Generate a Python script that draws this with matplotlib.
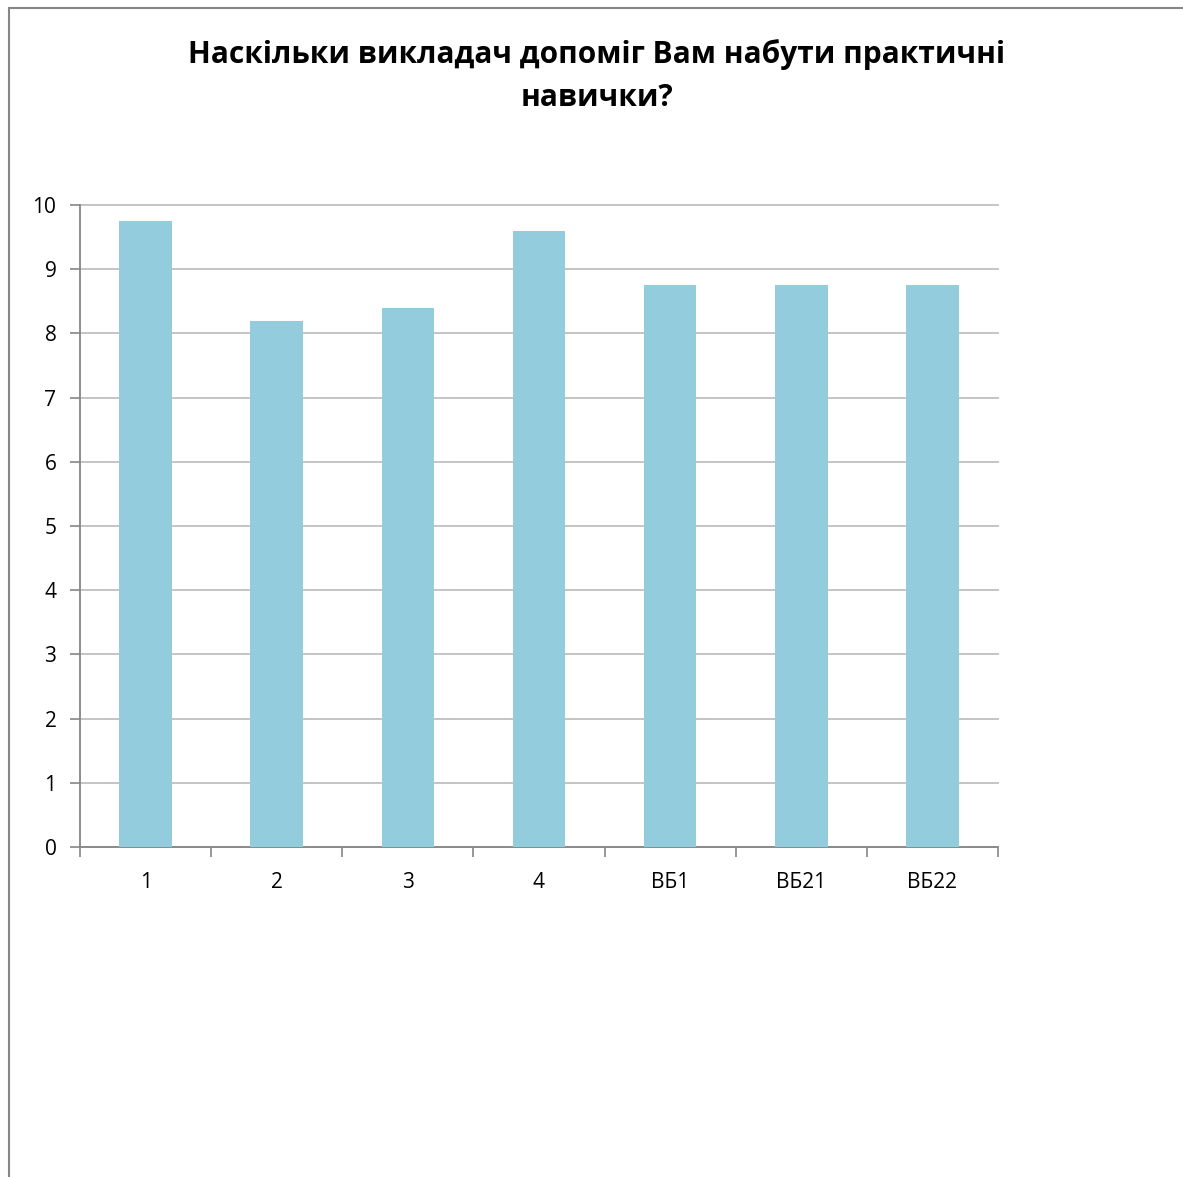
import matplotlib
matplotlib.use("Agg")
import matplotlib.pyplot as plt
from matplotlib.patches import Rectangle

categories = ["1", "2", "3", "4", "ВБ1", "ВБ21", "ВБ22"]
values = [9.75, 8.2, 8.4, 9.6, 8.75, 8.75, 8.75]
title = "Наскільки викладач допоміг Вам набути практичні\nнавички?"

plt.rcParams['font.family'] = ['Open Sans', 'DejaVu Sans']

W, H = 1183, 1177
fig = plt.figure(figsize=(W/100, H/100), dpi=100)
ax = fig.add_axes([80/W, 1-847/H, 918/W, 642/H])

x = list(range(len(categories)))
ax.bar(x, values, width=0.4, color="#93CDDD", zorder=3)
ax.set_xlim(-0.5, len(categories)-0.5)
ax.set_ylim(0, 10)
ax.set_yticks(range(0, 11))
ax.set_xticks(x)
ax.set_xticklabels(categories)
ax.set_xticks([i - 0.5 for i in range(len(categories)+1)], minor=True)
ax.tick_params(axis='x', which='major', length=0, pad=18, labelsize=15)
ax.tick_params(axis='x', which='minor', length=7, color="#868686", width=1.2, direction='out')
ax.tick_params(axis='y', length=7, color="#868686", width=1.2, pad=10, labelsize=15)
ax.grid(axis='y', color="#BFBFBF", linewidth=1.3, zorder=0, clip_on=False)
for s in ["top", "right"]:
    ax.spines[s].set_visible(False)
for s in ["left", "bottom"]:
    ax.spines[s].set_color("#868686")
    ax.spines[s].set_linewidth(1.3)

fig.text(597/W, 1-76/H, title, ha='center', va='center', fontsize=21.5,
         fontweight='bold', linespacing=1.6)

fig.patches.append(Rectangle((9/W, -0.1), 1.2, 1 - 8/H + 0.1, transform=fig.transFigure,
                             fill=False, edgecolor="#868686", linewidth=1.5))

fig.savefig("out.png", dpi=100)
